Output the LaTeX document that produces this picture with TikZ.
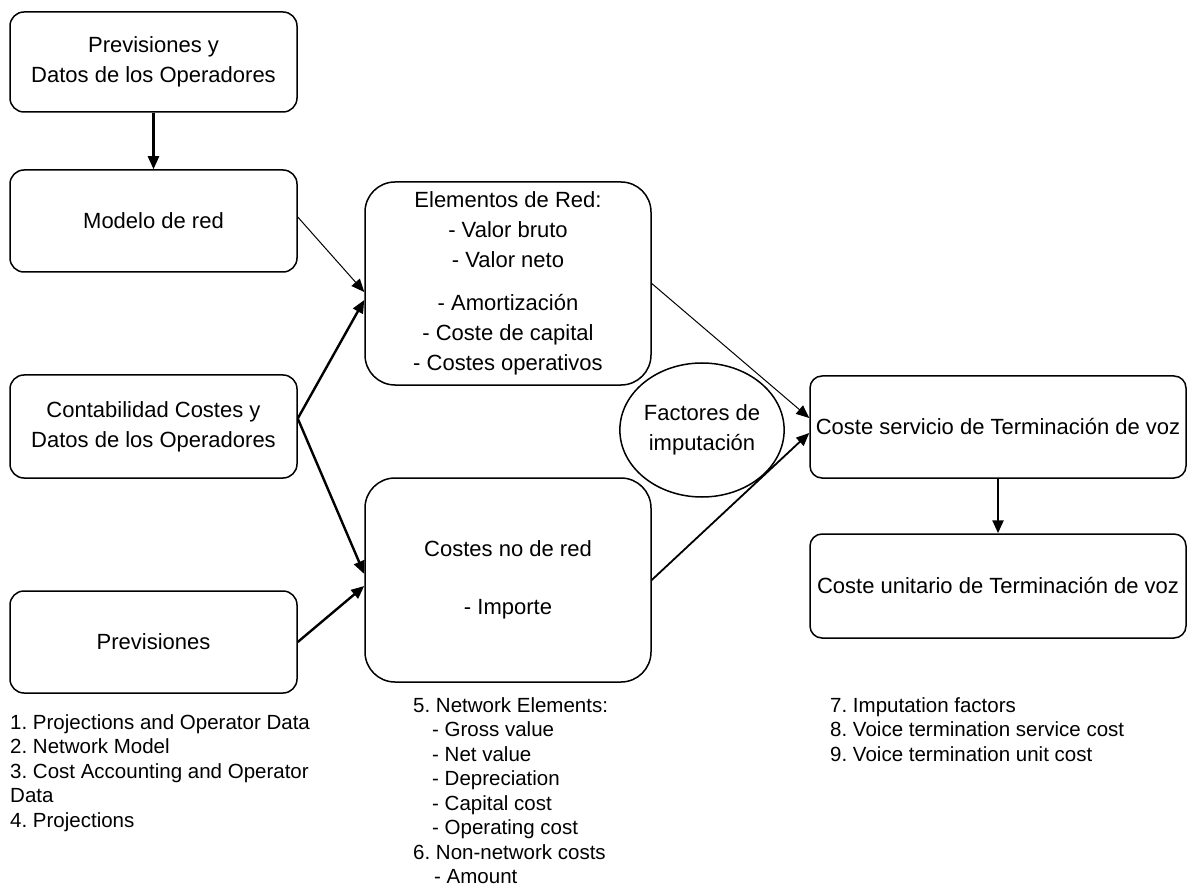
\documentclass[tikz,border=0pt]{standalone}
\usepackage{fontspec}
\setmainfont{Liberation Sans}
\usetikzlibrary{arrows.meta,shapes.geometric}
\frenchspacing
\newcommand\mybfont{\fontsize{22}{30}\selectfont}
\newcommand\mylfont{\fontsize{20.5}{24.5}\selectfont}
\begin{document}
\begin{tikzpicture}[x=1pt,y=-1pt,
  box/.style={draw, line width=1.5pt, rounded corners=14pt, minimum width=287pt,
    inner sep=0pt, align=center, font=\mybfont},
  bigbox/.style={box, rounded corners=30pt, minimum width=286pt},
  rbox/.style={box, rounded corners=12pt, minimum width=376pt},
  circ/.style={draw, line width=1.5pt, ellipse, inner sep=0pt, minimum width=150pt,
    minimum height=134pt, align=center, font=\mybfont},
  lst/.style={inner sep=0pt, align=left, anchor=north west, font=\mylfont},
  tip/.style={-{Triangle[length=13pt,width=11pt]}},
  thick arrow/.style={tip, line width=2.4pt},
  mid arrow/.style={tip, line width=1.8pt},
  thin arrow/.style={tip, line width=1pt}]
\fill[white] (0,0) rectangle (1191,890);
\useasboundingbox (0,0) rectangle (1191,890);

\node[box, minimum height=100pt] (b1) at (153.5,62) {Previsiones y\\Datos de los Operadores};
\node[box, minimum height=102pt] (b2) at (153.5,221) {Modelo de red};
\node[box, minimum height=103pt] (b3) at (153.5,426.5) {Contabilidad Costes y\\Datos de los Operadores};
\node[box, minimum height=102pt] (b4) at (153.5,642) {Previsiones};

\node[bigbox, minimum height=203pt] (elem) at (508,283.5)
  {Elementos de Red:\\- Valor bruto\\- Valor neto\\[13pt]- Amortización\\- Coste de capital\\- Costes operativos};
\node[bigbox, minimum height=204pt] (cost) at (508,580)
  {Costes no de red\\[28pt]- Importe};

\node[circ] (fact) at (702,430) {Factores de\\imputación};

\node[rbox, minimum height=102pt] (serv) at (998,427) {Coste servicio de Terminación de voz};
\node[rbox, minimum height=104pt] (unit) at (998,586) {Coste unitario de Terminación de voz};

\draw[thick arrow] (b1.south) -- (b2.north);
\draw[thin arrow] ([yshift=4pt]b2.east) -- ([yshift=-8.5pt]elem.west);
\draw[thick arrow] ([yshift=8pt]b3.east) -- ([yshift=-16.5pt]elem.west);
\draw[thick arrow] ([yshift=8pt]b3.east) -- ([yshift=6pt]cost.west);
\draw[thick arrow] (b4.east) -- ([yshift=-6pt]cost.west);
\draw[thin arrow] (elem.east) -- ([yshift=9pt]serv.west);
\draw[mid arrow] (cost.east) -- ([yshift=-6pt]serv.west);
\draw[thick arrow] (serv.south) -- (unit.north);

\node[lst] (l1) at (10,714) {1. Projections and Operator Data\\2. Network Model\\3. Cost Accounting and Operator\\Data\\4. Projections};
\node[lst] (l2) at (413,697) {5. Network Elements:\\\hspace*{19pt}- Gross value\\\hspace*{19pt}- Net value\\\hspace*{19pt}- Depreciation\\\hspace*{19pt}- Capital cost\\\hspace*{19pt}- Operating cost\\6. Non-network costs\\\hspace*{21pt}- Amount};
\node[lst] (l3) at (830,697) {7. Imputation factors\\8. Voice termination service cost\\9. Voice termination unit cost};
\end{tikzpicture}
\end{document}
